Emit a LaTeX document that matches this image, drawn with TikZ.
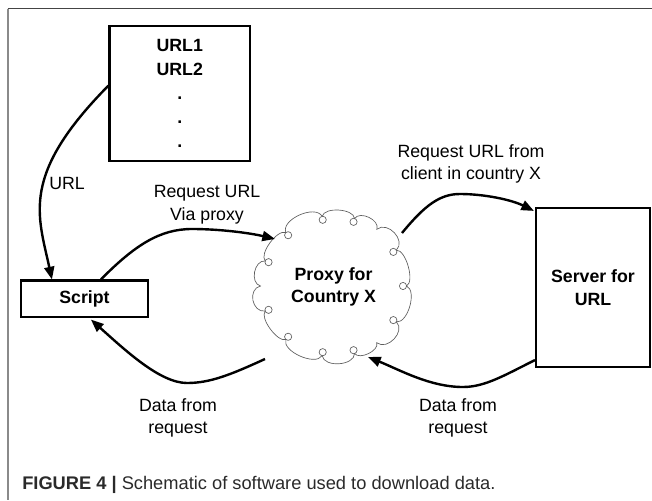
\documentclass[tikz,border=0pt]{standalone}
\usepackage{fontspec}
\setmainfont{Liberation Sans}
\usetikzlibrary{arrows.meta,shapes.geometric,calc}
\definecolor{framedark}{HTML}{444444}
\definecolor{framegray}{HTML}{8A8A8A}
\definecolor{cloudgray}{HTML}{5E5E5E}
\definecolor{captext}{HTML}{2A2A2A}
\newcommand\diagfont{\fontsize{13.3pt}{16.9pt}\selectfont}
\newcommand\listfont{\fontsize{13.3pt}{18pt}\selectfont}
\newcommand\capfont{\fontsize{13.7pt}{16pt}\selectfont}
\begin{document}
\begin{tikzpicture}[x=0.75pt,y=-0.75pt,
  box/.style={draw, line width=1.6pt, inner sep=0pt, align=center, font=\bfseries\diagfont},
  lbl/.style={align=center, font=\diagfont, inner sep=0pt},
  conn/.style={line width=1.8pt, -{Triangle[length=9.5pt,width=7.5pt]}},
  framel/.style={line width=1.2pt},
  cloudline/.style={cloudgray, line width=0.5pt}
]
\useasboundingbox (0,0) rectangle (652,500);
% frame
\draw[framel, framedark] (7.5,8.5) -- (652,8.5);
\draw[framel, framegray, line width=1.5pt] (7.5,8.5) -- (7.5,500);
% nodes
\node[box, font=\bfseries\listfont, minimum width=105.4pt, minimum height=101.25pt] (urls) at (179.75,93.2) {URL1\\URL2\\.\\.\\.};
\node[box, minimum width=95.25pt, minimum height=27.4pt] (script) at (84.5,298.75) {Script};
\node[box, minimum width=85.5pt, minimum height=119.25pt] (server) at (593,287.5) {Server for\\URL};
\node[ellipse, inner sep=0pt, minimum width=125.25pt, minimum height=121.5pt, align=center, font=\bfseries\diagfont] (proxy) at (333.5,287) {Proxy for\\Country X};
% cloud outline: join points and control points
\def\cx{333.5}
\def\cy{286}
\foreach \i in {0,...,14} {
  \pgfmathsetmacro\ang{\i*(360/14)+5*sin(\i*(1080/14))}
  \coordinate (J\i) at ({\cx+73*cos(\ang)}, {\cy+70.5*sin(\ang)});
}
\foreach \i in {0,...,13} {
  \pgfmathsetmacro\anga{\i*(360/14)+5*sin(\i*(1080/14))}
  \pgfmathsetmacro\angb{(\i+1)*(360/14)+5*sin((\i+1)*(1080/14))}
  \pgfmathsetmacro\bul{1.15+0.04*sin(\i*(1800/14))}
  \pgfmathsetmacro\da{\anga+0.1*(\angb-\anga)}
  \pgfmathsetmacro\db{\angb-0.1*(\angb-\anga)}
  \coordinate (Ca\i) at ({\cx+\bul*73*cos(\da)}, {\cy+\bul*70.5*sin(\da)});
  \coordinate (Cb\i) at ({\cx+\bul*73*cos(\db)}, {\cy+\bul*70.5*sin(\db)});
}
\draw[cloudline] (J0) \foreach \i [count=\j from 1] in {0,...,13} { .. controls (Ca\i) and (Cb\i) .. (J\j) } -- cycle;
% cloud outline: small curls at the joins
\foreach \i in {0,1,3,4,5,6,8,9,10,11,13} {
  \pgfmathsetmacro\ang{\i*(360/14)+5*sin(\i*(1080/14))}
  \draw[cloudline] ({\cx+69.5*cos(\ang)}, {\cy+67*sin(\ang)}) circle[radius=2.7pt];
}
% connector end points
\coordinate (pA) at ($(proxy.center)+(-58.5,-48)$);
\coordinate (pB) at ($(proxy.center)+(68.5,-54)$);
\coordinate (pC) at ($(proxy.center)+(-68.5,72)$);
\coordinate (pD) at ($(proxy.center)+(34.5,70)$);
\coordinate (uS) at ($(urls.north west)+(0,61)$);
\coordinate (sIn) at ($(script.north west)+(32,0)$);
\coordinate (sOut) at ($(script.north west)+(81,0)$);
\coordinate (sBack) at ($(script.south west)+(71,1.5)$);
\coordinate (vIn) at ($(server.north west)+(-1,4)$);
\coordinate (vOut) at ($(server.south west)+(0,-8)$);
% connectors
\draw[conn] (uS) .. controls (20,175) and (38,215) .. (sIn);
\draw[conn] (sOut) .. controls (135,245) and (160,229) .. (192,229) .. controls (220,229) and (250,233) .. (pA);
\draw[conn] (pB) .. controls (425,205) and (440,194) .. (460,194) .. controls (485,194) and (512,200) .. (vIn);
\draw[conn] (pC) .. controls (230,375) and (210,383) .. (187,383) .. controls (160,383) and (125,350) .. (sBack);
\draw[conn] (vOut) .. controls (505,375) and (485,387) .. (463,387) .. controls (430,387) and (400,370) .. (pD);
% labels
\node[lbl] (lurl) at (67,183) {URL};
\node[lbl] (lreq) at (207,204.5) {Request URL\\Via proxy};
\node[lbl] (lcli) at (471,164) {Request URL from\\client in country X};
\node[lbl] (ldl) at (178,418) {Data from\\request};
\node[lbl] (ldr) at (458,418) {Data from\\request};
% caption
\node[anchor=base west, inner sep=0pt, text=captext, font=\capfont] (cap) at (22,489) {\textbf{FIGURE 4 |} Schematic of software used to download data.};
\end{tikzpicture}
\end{document}
